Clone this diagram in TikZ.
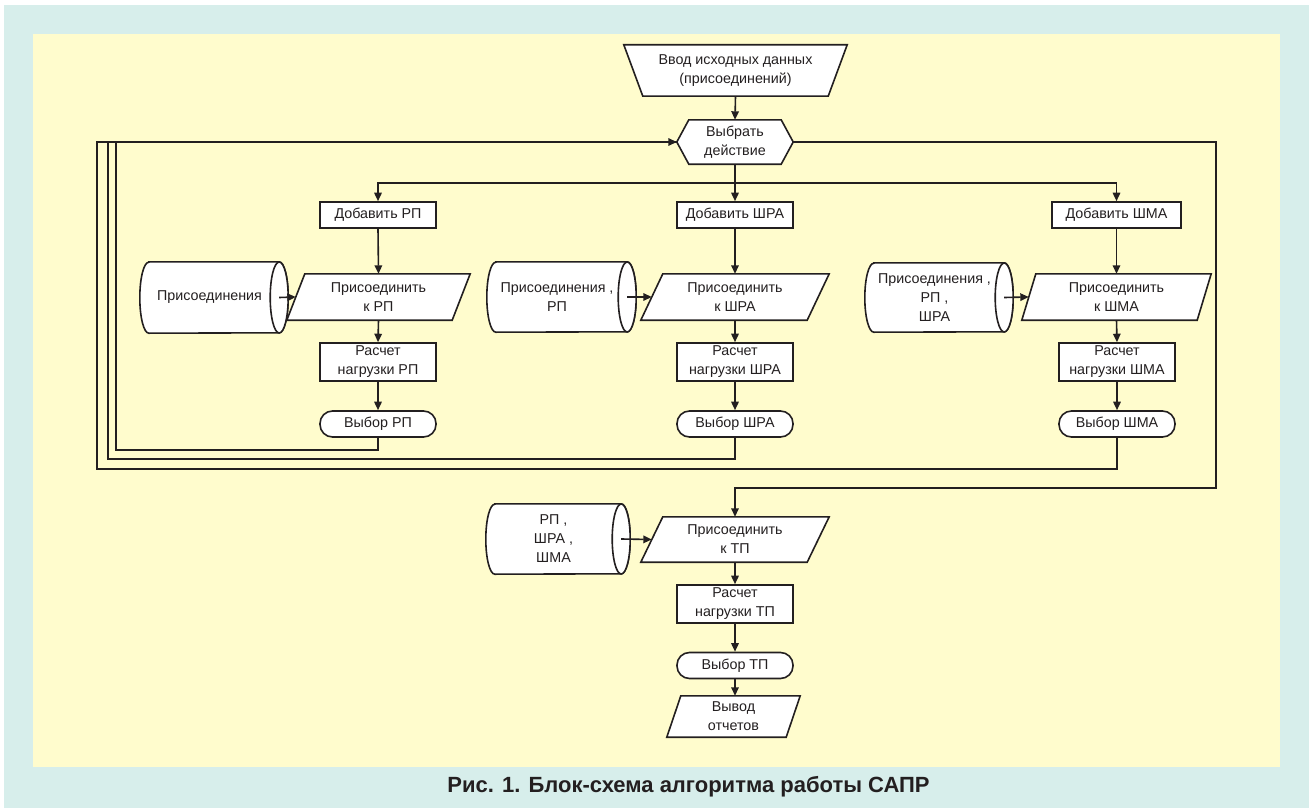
\documentclass[tikz,border=0pt]{standalone}
\usepackage{fontspec}
\setmainfont{Liberation Sans}
\usetikzlibrary{calc,arrows.meta}
\pgfdeclarelayer{bg}
\pgfdeclarelayer{shp}
\pgfsetlayers{bg,shp,main}
\definecolor{teal0}{RGB}{215,238,235}
\definecolor{yel0}{RGB}{255,252,205}
\definecolor{ink}{RGB}{35,31,32}
% outlines drawn around invisible (ghost) nodes
\newcommand\pgramshape[2]{\filldraw[shapeline] ($(#1.north west)+(#2,0)$) -- (#1.north east) -- ($(#1.south east)-(#2,0)$) -- (#1.south west) -- cycle;}
\newcommand\trapshape[2]{\filldraw[shapeline] (#1.north west) -- (#1.north east) -- ($(#1.south east)-(#2,0)$) -- ($(#1.south west)+(#2,0)$) -- cycle;}
\newcommand\hexshape[2]{\filldraw[shapeline] (#1.west) -- ($(#1.north west)+(#2,0)$) -- ($(#1.north east)-(#2,0)$) -- (#1.east) -- ($(#1.south east)-(#2,0)$) -- ($(#1.south west)+(#2,0)$) -- cycle;}
\newcommand\cylshape[3]{\filldraw[shapeline] ($(#1.north west)+(#2,0)$) -- (#1.north east) arc[start angle=90,end angle=-90,x radius=#2,y radius=#3] -- ($(#1.south west)+(#2,0)$) arc[start angle=270,end angle=90,x radius=#2,y radius=#3] -- cycle;
\draw[shapeline] (#1.east) ellipse[x radius=#2,y radius=#3];}
\begin{document}
\begin{tikzpicture}[x=1pt,y=1pt,
  every node/.style={font=\fontsize{14.3}{19}\selectfont, text=ink, align=center, inner sep=0pt},
  shapeline/.style={draw=ink, line width=1.6pt, fill=white, line join=miter},
  rbox/.style={draw=ink, line width=1.6pt, fill=white, minimum width=116pt},
  term/.style={rbox, rounded corners=12.5pt, minimum height=26pt},
  link/.style={draw=ink, line width=1.6pt},
  arr/.style={link, -{Triangle[length=8.5pt,width=7.5pt]}}
]
\useasboundingbox (0,0) rectangle (1310,-808);
\begin{pgfonlayer}{bg}
  \fill[white] (0,0) rectangle (1310,-808);
  \fill[teal0] (4,-5) rectangle (1309,-808);
  \fill[yel0] (33,-34) rectangle (1280,-767);
\end{pgfonlayer}

% ---- top
\node[minimum width=223pt, minimum height=51pt] (in) at (735.5,-70.5) {Ввод исходных данных\\(присоединений)};
\node[minimum width=116pt, minimum height=44pt] (sel) at (735,-142) {Выбрать\\действие};

% ---- Добавить
\node[rbox, minimum height=26pt] (aRP) at (378,-215) {Добавить РП};
\node[rbox, minimum height=26pt] (aSHRA) at (735,-215) {Добавить ШРА};
\node[rbox, minimum height=26pt, minimum width=129pt] (aSHMA) at (1116.5,-215) {Добавить ШМА};

% ---- Присоединить
\node[minimum width=183pt, minimum height=46pt] (pRP) at (378.5,-297) {Присоединить\\к РП};
\node[minimum width=188pt, minimum height=46pt] (pSHRA) at (735,-297) {Присоединить\\к ШРА};
\node[minimum width=189pt, minimum height=46pt] (pSHMA) at (1116.5,-297) {Присоединить\\к ШМА};

% ---- cylinders (body from left bulge to centre of right ellipse)
\node[minimum width=139pt, minimum height=71pt] (cRP) at (209.5,-297.5) {Присоединения};
\node[minimum width=140pt, minimum height=70pt] (cSHRA) at (557,-297) {Присоединения ,\\РП};
\node[minimum width=139pt, minimum height=69pt] (cSHMA) at (934.5,-297.5) {Присоединения ,\\РП ,\\ШРА};

% ---- Расчет
\node[rbox, minimum height=38pt] (rRP) at (378,-362) {Расчет\\нагрузки РП};
\node[rbox, minimum height=38pt] (rSHRA) at (735,-362) {Расчет\\нагрузки ШРА};
\node[rbox, minimum height=38pt] (rSHMA) at (1117,-362) {Расчет\\нагрузки ШМА};

% ---- Выбор
\node[term] (vRP) at (378,-424) {Выбор РП};
\node[term] (vSHRA) at (735,-424) {Выбор ШРА};
\node[term] (vSHMA) at (1117,-424) {Выбор ШМА};

% ---- ТП
\node[minimum width=188pt, minimum height=45pt] (pTP) at (735,-539.5) {Присоединить\\к ТП};
\node[minimum width=135pt, minimum height=70pt] (cTP) at (553.5,-539) {РП ,\\ШРА ,\\ШМА};
\node[rbox, minimum height=38pt] (rTP) at (735,-604) {Расчет\\нагрузки ТП};
\node[term] (vTP) at (735,-665.5) {Выбор ТП};
\node[minimum width=133pt, minimum height=41pt] (out) at (733.5,-716.5) {Вывод\\отчетов};

% ---- caption
\node[font=\fontsize{22}{26}\selectfont\bfseries] (cap) at (688.5,-787) {Рис. 1. Блок-схема алгоритма работы САПР};

% ---- outlines
\begin{pgfonlayer}{shp}
  \trapshape{in}{19pt}
  \hexshape{sel}{12pt}
  \pgramshape{pRP}{18pt}
  \pgramshape{pSHRA}{22pt}
  \pgramshape{pSHMA}{14pt}
  \pgramshape{pTP}{22pt}
  \pgramshape{out}{14pt}
  \cylshape{cRP}{9pt}{35.5pt}
  \cylshape{cSHRA}{9pt}{35pt}
  \cylshape{cSHMA}{9pt}{34.5pt}
  \cylshape{cTP}{9pt}{35pt}
\end{pgfonlayer}

% ---- connectors
\coordinate (br) at (735,-183);
\draw[arr] (in.south) -- (sel.north);
\draw[link] (sel.south) -- (br);
\draw[arr] (br) -- (aSHRA.north);
\draw[arr] (br) -| (aRP.north);
\draw[arr] (br) -| (aSHMA.north);

\draw[arr] (aRP.south) -- (pRP.north);
\draw[arr] (aSHRA.south) -- (pSHRA.north);
\draw[arr] (aSHMA.south) -- (pSHMA.north);

\draw[arr] (cRP.east) -- ($(pRP.west)+(9pt,0)$);
\draw[arr] (cSHRA.east) -- ($(pSHRA.west)+(11pt,0)$);
\draw[arr] (cSHMA.east) -- ($(pSHMA.west)+(7pt,0)$);

\draw[arr] (pRP.south) -- (rRP.north);
\draw[arr] (pSHRA.south) -- (rSHRA.north);
\draw[arr] (pSHMA.south) -- (rSHMA.north);

\draw[arr] (rRP.south) -- (vRP.north);
\draw[arr] (rSHRA.south) -- (vSHRA.north);
\draw[arr] (rSHMA.south) -- (vSHMA.north);

% feedback loops
\draw[arr] (vRP.south) |- (116,-450) |- (sel.west);
\draw[link] (vSHRA.south) |- (108,-459) |- (sel.west);
\draw[link] (vSHMA.south) |- (97,-469) |- (sel.west);

% exit to ТП
\draw[arr] (sel.east) -| (1216,-488) -| (pTP.north);
\draw[arr] (cTP.east) -- ($(pTP.west)+(11pt,0)$);
\draw[arr] (pTP.south) -- (rTP.north);
\draw[arr] (rTP.south) -- (vTP.north);
\draw[arr] (vTP.south) -- ($(out.north)+(1.5pt,0)$);
\end{tikzpicture}
\end{document}
